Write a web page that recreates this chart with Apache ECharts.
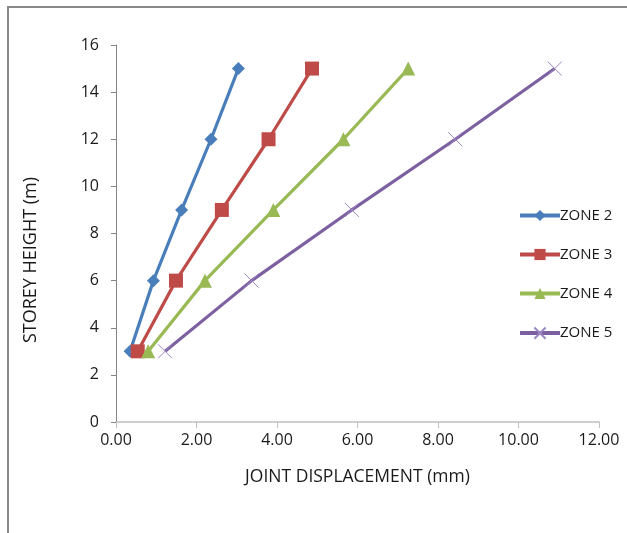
<!DOCTYPE html>
<html><head><meta charset="utf-8">
<script src="https://cdn.jsdelivr.net/npm/echarts@6/dist/echarts.min.js"></script>
<style>html,body{margin:0;padding:0;background:#fff}#c{width:627px;height:533px}</style>
</head><body><div id="c"></div>
<script>
const storeyHeights = [3, 6, 9, 12, 15];
const zone2 = [0.35, 0.93, 1.63, 2.36, 3.04];
const zone3 = [0.54, 1.49, 2.63, 3.79, 4.87];
const zone4 = [0.80, 2.21, 3.91, 5.65, 7.26];
const zone5 = [1.22, 3.37, 5.86, 8.43, 10.90];
const seriesNames = ['ZONE 2', 'ZONE 3', 'ZONE 4', 'ZONE 5'];
const xTitle = 'JOINT DISPLACEMENT (mm)';
const yTitle = 'STOREY HEIGHT (m)';

const FONT = '"Liberation Sans Narrow", "Open Sans", sans-serif';
const pairs = arr => arr.map((x, i) => [x, storeyHeights[i]]);
const colors = ['#4a7ebb', '#be4b48', '#98b954', '#7d60a0'];
const symbols = ['diamond', 'rect', 'triangle', 'path://M0,0L10,10M10,0L0,10'];
const sizes = [13, 14, 14, 14];
const datas = [zone2, zone3, zone4, zone5];

const chart = echarts.init(document.getElementById('c'), null, {renderer: 'canvas'});
chart.setOption({
  animation: false,
  backgroundColor: '#fff',
  grid: {left: 116, right: 28, top: 45, bottom: 111, containLabel: false},
  xAxis: {
    type: 'value', min: 0, max: 12, interval: 2,
    name: xTitle, nameLocation: 'middle', nameGap: 46,
    nameTextStyle: {fontFamily: FONT, fontSize: 17.5, color: '#1a1a1a'},
    axisLine: {show: true, lineStyle: {color: '#bfbfbf', width: 1.5}},
    axisTick: {show: true, length: 6, lineStyle: {color: '#bfbfbf'}},
    axisLabel: {fontFamily: FONT, fontSize: 16, color: '#1a1a1a', margin: 10,
      formatter: v => v.toFixed(2)},
    splitLine: {show: false}
  },
  yAxis: {
    type: 'value', min: 0, max: 16, interval: 2,
    axisLine: {show: true, lineStyle: {color: '#868686', width: 1}},
    axisTick: {show: true, length: 5, lineStyle: {color: '#868686'}},
    axisLabel: {fontFamily: FONT, fontSize: 16, color: '#1a1a1a', margin: 17},
    splitLine: {show: false}
  },
  legend: {
    orient: 'vertical', left: 513, top: 203, itemGap: 24,
    itemWidth: 40, itemHeight: 14,
    lineStyle: {width: 4},
    textStyle: {fontFamily: FONT, fontSize: 15, color: '#1a1a1a', padding: [0, 0, 0, -5]},
    data: seriesNames
  },
  graphic: [
    {type: 'rect', shape: {x: 8, y: 7, width: 640, height: 560},
     style: {fill: 'none', stroke: '#888', lineWidth: 2}, silent: true},
    {type: 'text', x: 31, y: 260, rotation: Math.PI / 2,
     style: {text: yTitle, font: '18px ' + FONT, fill: '#1a1a1a',
       textAlign: 'center', textVerticalAlign: 'middle'}}
  ],
  series: datas.map((d, i) => ({
    name: seriesNames[i], type: 'line', data: pairs(d),
    symbol: symbols[i], symbolSize: sizes[i],
    lineStyle: {color: colors[i], width: 3.2},
    itemStyle: i === 3
      ? {color: 'none', borderColor: '#9d87c2', borderWidth: 1}
      : {color: colors[i], borderWidth: 0},
    z: 2
  }))
});
</script></body></html>
